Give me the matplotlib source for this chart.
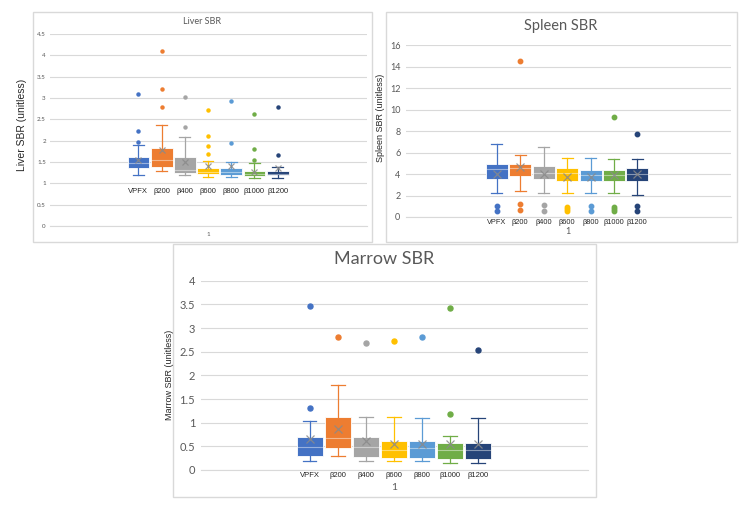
import matplotlib
matplotlib.use("Agg")
import matplotlib.pyplot as plt
from matplotlib.patches import Rectangle

W, H = 750, 514

groups = ["VPFX", "β200", "β400", "β600", "β800", "β1000", "β1200"]
colors = ["#4472C4", "#ED7D31", "#A5A5A5", "#FFC000", "#5B9BD5", "#70AD47", "#264478"]

# Liver SBR
liver_lo = [1.19, 1.28, 1.19, 1.15, 1.14, 1.12, 1.12]
liver_q1 = [1.35, 1.39, 1.25, 1.22, 1.20, 1.17, 1.19]
liver_med = [1.48, 1.55, 1.31, 1.27, 1.27, 1.23, 1.23]
liver_q3 = [1.61, 1.83, 1.61, 1.36, 1.36, 1.30, 1.30]
liver_hi = [1.89, 2.37, 2.08, 1.53, 1.51, 1.47, 1.39]
liver_mean = [1.55, 1.78, 1.51, 1.41, 1.40, 1.27, 1.37]
liver_out = [[3.10, 2.23, 1.98], [4.09, 3.22, 2.79], [3.02, 2.31],
             [2.71, 2.12, 1.88, 1.69], [2.93, 1.94], [2.63, 1.81, 1.54], [2.79, 1.67]]

# Spleen SBR
spleen_lo = [2.28, 2.38, 2.19, 2.19, 2.19, 2.19, 2.06]
spleen_q1 = [3.50, 3.84, 3.56, 3.38, 3.38, 3.38, 3.38]
spleen_med = [4.47, 4.60, 4.06, 4.06, 3.88, 3.88, 3.97]
spleen_q3 = [4.97, 4.97, 4.78, 4.60, 4.38, 4.38, 4.60]
spleen_hi = [6.78, 5.78, 6.50, 5.47, 5.47, 5.38, 5.38]
spleen_mean = [4.00, 4.69, 4.00, 3.75, 3.75, 3.88, 3.97]
spleen_out = [[1.03, 0.53], [14.5, 1.22, 0.66], [1.12, 0.53],
              [0.90, 0.72, 0.53], [1.03, 0.53], [9.34, 0.90, 0.72, 0.53], [7.75, 1.03, 0.53]]

# Marrow SBR
marrow_lo = [0.20, 0.30, 0.20, 0.18, 0.18, 0.15, 0.15]
marrow_q1 = [0.30, 0.47, 0.27, 0.25, 0.25, 0.23, 0.23]
marrow_med = [0.49, 0.67, 0.49, 0.42, 0.46, 0.42, 0.42]
marrow_q3 = [0.70, 1.11, 0.70, 0.62, 0.62, 0.57, 0.57]
marrow_hi = [1.04, 1.80, 1.11, 1.11, 1.09, 0.72, 1.09]
marrow_mean = [0.65, 0.87, 0.61, 0.54, 0.54, 0.54, 0.54]
marrow_out = [[3.46, 1.30], [2.81], [2.68], [2.73], [2.81], [3.43, 1.18], [2.54]]

plt.rcParams['font.family'] = ['Lato', 'DejaVu Sans']
fig = plt.figure(figsize=(7.5, 5.14), dpi=100)
fig.patch.set_facecolor("white")


def px_rect(x0, y0, x1, y1):
    return [x0 / W, 1 - y1 / H, (x1 - x0) / W, (y1 - y0) / H]


def panel(x0, y0, x1, y1):
    fig.patches.append(Rectangle((x0 / W, 1 - y1 / H), (x1 - x0) / W, (y1 - y0) / H,
                                 transform=fig.transFigure, fill=False,
                                 edgecolor="#D9D9D9", lw=1.0))


def boxes(ax, lo, q1, med, q3, hi, mean, out, width, fsize):
    stats = []
    for i in range(len(groups)):
        stats.append(dict(whislo=lo[i], q1=q1[i], med=med[i], q3=q3[i],
                          whishi=hi[i], mean=mean[i], fliers=out[i]))
    b = ax.bxp(stats, positions=range(1, 8), widths=width, capwidths=width * 0.5,
               patch_artist=True, showmeans=True)
    for i, c in enumerate(colors):
        b["boxes"][i].set(facecolor=c, edgecolor="white", lw=0.6)
        b["medians"][i].set(color="white", alpha=0.45, lw=0.8)
        b["means"][i].set(marker="x", markeredgecolor="#8a8a8a", markersize=fsize + 2.5,
                          markeredgewidth=0.9, alpha=0.85)
        for k in (2 * i, 2 * i + 1):
            b["whiskers"][k].set(color=c, lw=0.9)
            b["caps"][k].set(color=c, lw=0.9)
        b["fliers"][i].set(marker="o", markerfacecolor=c, markeredgecolor=c,
                           markersize=fsize)


def style(ax, ymax, step, tsize, pad):
    ax.set_ylim(0, ymax)
    ticks = [step * k for k in range(int(round(ymax / step)) + 1)]
    ax.set_yticks(ticks)
    ax.set_yticklabels([("%g" % t) for t in ticks])
    ax.set_xticks([])
    ax.tick_params(axis="y", length=0, labelsize=tsize, labelcolor="#595959", pad=pad)
    ax.grid(axis="y", color="#D9D9D9", lw=0.8)
    ax.set_axisbelow(True)
    for s in ("top", "right", "left"):
        ax.spines[s].set_visible(False)
    ax.spines["bottom"].set_color("#D9D9D9")


# ---- Liver ----
panel(33, 12, 372, 242)
axL = fig.add_axes(px_rect(50, 34, 367, 226))
boxes(axL, liver_lo, liver_q1, liver_med, liver_q3, liver_hi, liver_mean, liver_out, 0.94, 2.2)
style(axL, 4.5, 0.5, 4.5, 3)
axL.set_xlim(-2.81, 10.85)
for i, g in enumerate(groups):
    axL.text(i + 1, 0.82, g, ha="center", va="center", fontsize=5.5,
             family="Liberation Sans", color="#262626")
fig.text(202 / W, 1 - 22 / H, "Liver SBR", ha="center", va="center", fontsize=6.5, color="#595959")
fig.text(208 / W, 1 - 235 / H, "1", ha="center", va="center", fontsize=4.5, color="#595959")
fig.text(22 / W, 1 - 125 / H, "Liver SBR (unitless)", rotation=90, ha="center", va="center",
         fontsize=7.5, family="Liberation Sans", color="#262626")

# ---- Spleen ----
panel(386, 12, 737, 242)
axS = fig.add_axes(px_rect(406, 45.3, 731, 217))
boxes(axS, spleen_lo, spleen_q1, spleen_med, spleen_q3, spleen_hi, spleen_mean, spleen_out, 0.94, 3.2)
style(axS, 16, 2, 6.5, 4)
axS.set_xlim(-2.88, 11.0)
for i, g in enumerate(groups):
    axS.text(i + 1, -0.52, g, ha="center", va="center", fontsize=5.3,
             family="Liberation Sans", color="#262626")
fig.text(561 / W, 1 - 26 / H, "Spleen SBR", ha="center", va="center", fontsize=10.5, color="#595959")
fig.text(568 / W, 1 - 232 / H, "1", ha="center", va="center", fontsize=6.5, color="#595959")
fig.text(380 / W, 1 - 118 / H, "Spleen SBR (unitless)", rotation=90, ha="center", va="center",
         fontsize=6.5, family="Liberation Sans", color="#262626")

# ---- Marrow ----
panel(173, 244, 596, 497)
axM = fig.add_axes(px_rect(200.7, 280.7, 588, 470))
boxes(axM, marrow_lo, marrow_q1, marrow_med, marrow_q3, marrow_hi, marrow_mean, marrow_out, 0.94, 3.6)
style(axM, 4, 0.5, 8, 4)
axM.set_xlim(-2.90, 10.93)
for i, g in enumerate(groups):
    axM.text(i + 1, -0.11, g, ha="center", va="center", fontsize=5.5,
             family="Liberation Sans", color="#262626")
fig.text(384 / W, 1 - 259 / H, "Marrow SBR", ha="center", va="center", fontsize=13, color="#595959")
fig.text(394 / W, 1 - 487 / H, "1", ha="center", va="center", fontsize=7.5, color="#595959")
fig.text(170 / W, 1 - 375 / H, "Marrow SBR (unitless)", rotation=90, ha="center", va="center",
         fontsize=6.5, family="Liberation Sans", color="#262626")

fig.savefig("out.png", dpi=100, facecolor="white")
